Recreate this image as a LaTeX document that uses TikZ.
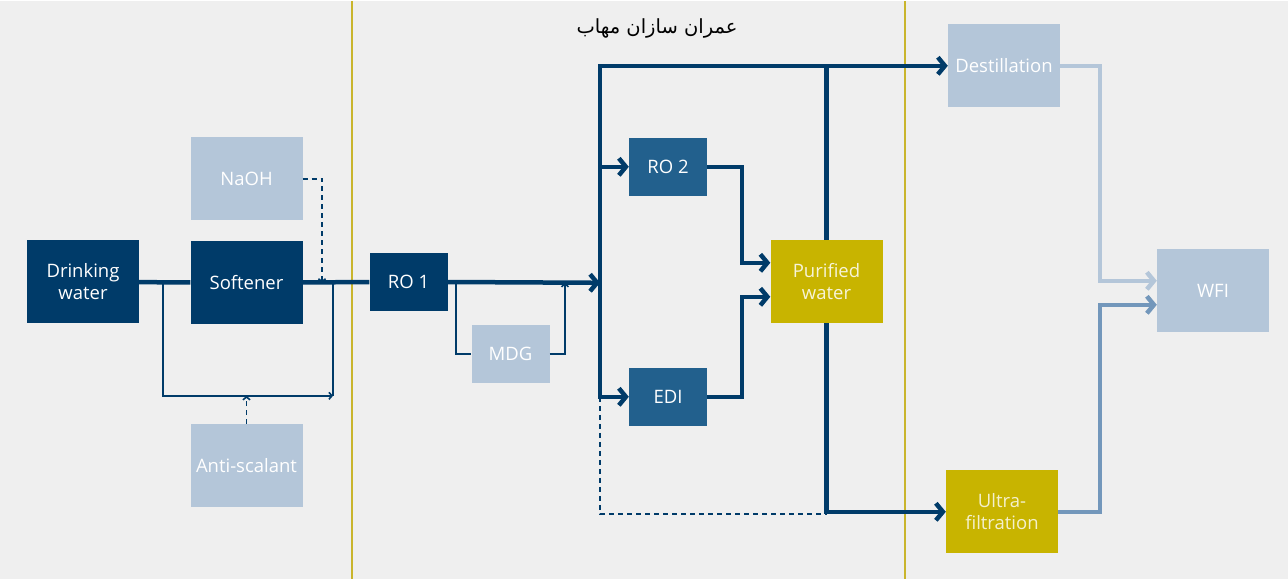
\documentclass[tikz,border=0pt]{standalone}
\usepackage{fontspec}
\setmainfont{Open Sans}
\newfontfamily\arabicfont[Script=Arabic]{DejaVu Sans}
\TeXXeTstate=1
\usepackage{tikz}
\usetikzlibrary{positioning}
\usetikzlibrary{calc,arrows.meta}

\definecolor{paper}{HTML}{EFEFEF}
\definecolor{navy}{HTML}{003B69}
\definecolor{steel}{HTML}{22608D}
\definecolor{pale}{HTML}{B4C6D9}
\definecolor{olive}{HTML}{C8B400}
\definecolor{dusk}{HTML}{7397BB}
\definecolor{rule}{HTML}{C9B52C}

\begin{document}
\begin{tikzpicture}[x=1pt, y=-1pt,
    box/.style={minimum width=112pt, minimum height=83pt, inner sep=0pt,
                text=white, align=center, font=\fontsize{18.5}{22}\selectfont},
    smallbox/.style={box, minimum width=78pt, minimum height=58pt},
    main/.style={draw=navy, line width=4.5pt},
    flow/.style={main, -{Straight Barb[length=7pt, width=17pt]}},
    thin/.style={draw=navy, line width=1.6pt},
    thinflow/.style={thin, -{Straight Barb[length=3pt, width=7pt]}},
    dashflow/.style={thinflow, dash pattern=on 5pt off 4pt}]
  %\draw [help lines, dotted] (0,0) grid[step=50] (1288,578);
  \fill[paper] (0,0) rectangle (1288,578);

  % section rules
  \coordinate (ruleL) at (352,0);
  \coordinate (ruleR) at (905,0);
  \foreach \r in {ruleL,ruleR}
    \draw[rule, line width=1.6pt] (\r) -- ++(0,578);

  \node(title) at (657,28) {\arabicfont\fontsize{19.5}{22}\selectfont\beginR عمران سازان مهاب\endR};

  % pretreatment
  \node(Drink)  [box, fill=navy]  at (83,281)    {Drinking\\water};
  \node(Soft)   [box, fill=navy]  at (246.5,282) {Softener};
  \node(NaOH)   [box, fill=pale]  at (246.5,178) {NaOH};
  \node(Anti)   [box, fill=pale]  at (246.5,465) {Anti-scalant};

  % purification
  \node(RO1)    [smallbox, fill=navy]  at (408.5,281) {RO 1};
  \node(MDG)    [smallbox, fill=pale]  at (510.5,353) {MDG};
  \node(RO2)    [smallbox, fill=steel] at (668,166)   {RO 2};
  \node(EDI)    [smallbox, fill=steel] at (668,396)   {EDI};
  \node(Pure)   [box, fill=olive, text=white!85!olive] at (826.5,280.5) {Purified\\water};

  % WFI
  \node(Dest)   [box, fill=pale]  at (1004,65)    {Destillation};
  \node(Ultra)  [box, fill=olive, text=white!80!olive] at (1002,511) {Ultra-\\filtration};
  \node(WFI)    [box, fill=pale]  at (1213,290)   {WFI};

  \coordinate (byA)  at (163,282);
  \coordinate (byB)  at (333,395);
  \coordinate (naIn) at (322,282);
  \coordinate (mdgA) at (456,282);
  \coordinate (mdgB) at (565,282);
  \coordinate (bus)  at (600,282);
  \coordinate (busTop) at (600,65);
  \coordinate (busBot) at (600,396);
  \coordinate (joinA) at (742,262);
  \coordinate (joinB) at (742,296);
  \coordinate (ufTurn) at (827,513);
  \coordinate (joinC) at (1100,280);
  \coordinate (joinD) at (1100,304);

  % main line
  \draw[main] (Drink) -- (Soft);
  \draw[main] (Soft) -- (RO1);
  \draw[flow] (RO1) -- (bus);

  % softener bypass and dosing
  \draw[thinflow] (byA) |- (byB);
  \draw[thin] (byB) -- (byB |- Soft);
  \draw[dashflow] (NaOH) -| (naIn);
  \draw[dashflow] (Anti) -- (Anti |- byB);
  \draw[thin] (mdgA) |- (MDG);
  \draw[thinflow] (MDG) -| (mdgB);

  % distribution
  \draw[main, line cap=rect] (busTop) -- (busBot);
  \draw[flow] (busTop) -- (Dest);
  \draw[flow] (busTop |- RO2) -- (RO2);
  \draw[flow] (busBot) -- (EDI);
  \draw[flow] (RO2) -| (joinA) -- (joinA -| Pure.west);
  \draw[flow] (EDI) -| (joinB) -- (joinB -| Pure.west);
  \draw[main] (Pure) -- (Pure |- busTop);
  \draw[flow] (Pure) |- (Ultra);
  \draw[thin, dash pattern=on 5pt off 4pt] (busBot) |- (ufTurn);

  \draw[flow, draw=pale] (Dest) -| (joinC) -- (joinC -| WFI.west);
  \draw[flow, draw=dusk] (Ultra) -| (joinD) -- (joinD -| WFI.west);

\end{tikzpicture}
\end{document}
